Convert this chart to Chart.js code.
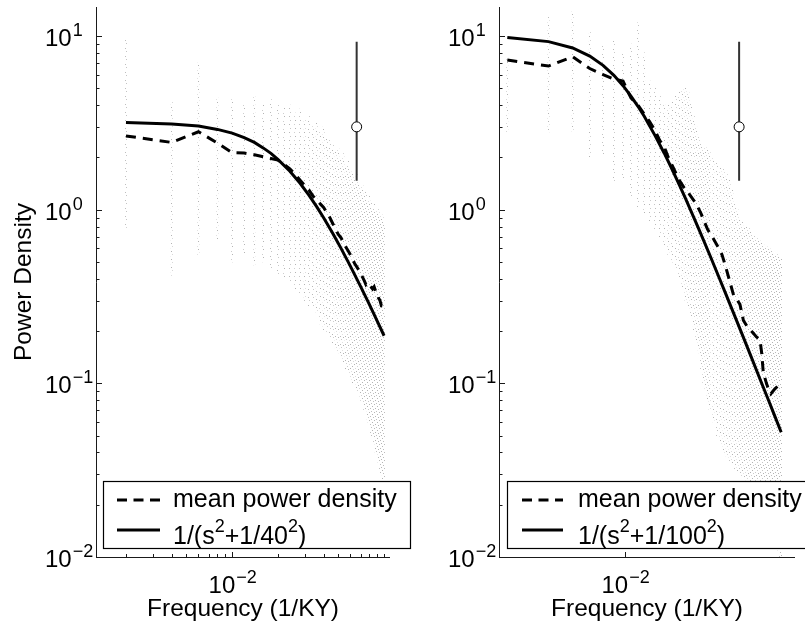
<!DOCTYPE html>
<html>
<head>
<meta charset="utf-8">
<script src="https://cdn.jsdelivr.net/npm/chart.js@4.4.0/dist/chart.umd.min.js"></script>
<style>
  html, body { margin: 0; padding: 0; background: #fff; }
  #wrap { position: relative; width: 805px; height: 628px; overflow: hidden; background: #fff; }
  canvas { position: absolute; top: 0; }
  #leftChart { left: 0; }
  #rightChart { left: 400px; }
</style>
</head>
<body>
<div id="wrap">
  <canvas id="leftChart" width="430" height="628"></canvas>
  <canvas id="rightChart" width="405" height="628"></canvas>
</div>
<script>
// ─── Left panel data (record ~500 KY) ───
const leftFreq = [0.002, 0.004, 0.006, 0.008, 0.010, 0.012, 0.014, 0.016, 0.018, 0.020,
    0.022, 0.024, 0.026, 0.028, 0.030, 0.032, 0.034, 0.036, 0.038, 0.040,
    0.042, 0.044, 0.046, 0.048, 0.050, 0.052, 0.054, 0.056, 0.058, 0.060,
    0.062, 0.064, 0.066, 0.068, 0.070, 0.072, 0.074, 0.076, 0.078, 0.080,
    0.082, 0.084, 0.086, 0.088, 0.090, 0.092, 0.094, 0.096, 0.098, 0.100];
const leftMean = [2.66, 2.44, 2.81, 2.42, 2.13, 2.12, 2.07, 2.02, 1.97, 1.93,
    1.82, 1.72, 1.60, 1.48, 1.38, 1.30, 1.20, 1.14, 1.08, 1.03,
    0.96, 0.90, 0.83, 0.77, 0.72, 0.69, 0.65, 0.61, 0.58, 0.55,
    0.52, 0.49, 0.47, 0.45, 0.43, 0.41, 0.39, 0.37, 0.38, 0.37,
    0.36, 0.35, 0.36, 0.34, 0.33, 0.31, 0.30, 0.28, 0.28, 0.29];
const leftScatterLow = [0.79, 0.42, 0.54, 0.67, 0.50, 0.55, 0.48, 0.50, 0.45, 0.42,
    0.40, 0.38, 0.35, 0.33, 0.30, 0.28, 0.27, 0.25, 0.22, 0.20,
    0.20, 0.18, 0.17, 0.16, 0.15, 0.14, 0.13, 0.12, 0.12, 0.11,
    0.10, 0.10, 0.09, 0.09, 0.08, 0.08, 0.07, 0.07, 0.06, 0.06,
    0.05, 0.05, 0.045, 0.04, 0.04, 0.035, 0.03, 0.03, 0.028, 0.025];
const leftScatterHigh = [9.7, 4.2, 7.0, 4.4, 4.3, 4.2, 4.5, 4.0, 4.3, 4.0,
    3.9, 4.0, 3.6, 3.8, 3.4, 3.5, 3.0, 3.2, 2.8, 3.0,
    2.6, 2.5, 2.4, 2.2, 2.3, 2.0, 2.1, 1.8, 1.9, 1.7,
    1.6, 1.5, 1.6, 1.4, 1.3, 1.4, 1.2, 1.3, 1.1, 1.2,
    1.1, 1.0, 1.1, 1.0, 0.95, 1.0, 0.9, 0.95, 0.9, 0.85];
const leftFitFreq = [0.002, 0.004, 0.006, 0.008, 0.010, 0.012, 0.014, 0.016, 0.018, 0.020,
    0.024, 0.028, 0.032, 0.036, 0.040, 0.046, 0.052, 0.060, 0.070, 0.080, 0.090, 0.100];
const leftFit = [3.18, 3.12, 3.03, 2.90, 2.76, 2.60, 2.44, 2.27, 2.11, 1.95,
    1.665, 1.42, 1.213, 1.041, 0.899, 0.730, 0.601, 0.473, 0.362, 0.285, 0.229, 0.188];

// ─── Right panel data (record ~725 KY) ───
const rightFreq = [0.00138, 0.00276, 0.00414, 0.00552, 0.0069, 0.00828, 0.00966, 0.01103, 0.01241, 0.01379,
    0.01517, 0.01655, 0.01793, 0.01931, 0.02069, 0.02207, 0.02345, 0.02483, 0.0262, 0.02759,
    0.02897, 0.03034, 0.03172, 0.0331, 0.03448, 0.03586, 0.03724, 0.03862, 0.04, 0.04138,
    0.04414, 0.0469, 0.04966, 0.05241, 0.05517, 0.05793, 0.06069, 0.06345, 0.06621, 0.06897,
    0.07172, 0.07448, 0.07724, 0.08, 0.08276, 0.08552, 0.08828, 0.09103, 0.09379, 0.09655,
    0.09931, 0.10207, 0.10483, 0.10759, 0.11034, 0.1131, 0.11586, 0.11862, 0.12138, 0.12414,
    0.1269, 0.12966, 0.13241, 0.13517, 0.13793];
const rightScatterLow = [2.8, 2.8, 2.8, 2.0, 2.0, 1.4, 1.5, 1.2, 1.04, 0.95,
    0.85, 0.75, 0.7, 0.62, 0.55, 0.5, 0.45, 0.4, 0.35, 0.3,
    0.27, 0.24, 0.2, 0.17, 0.15, 0.12, 0.1, 0.09, 0.08, 0.07,
    0.06, 0.05, 0.045, 0.04, 0.038, 0.036, 0.034, 0.032, 0.031, 0.03,
    0.029, 0.028, 0.027, 0.026, 0.025, 0.024, 0.023, 0.022, 0.021, 0.02,
    0.019, 0.018, 0.017, 0.016, 0.015, 0.014, 0.013, 0.013, 0.012, 0.012,
    0.011, 0.011, 0.011, 0.01, 0.01];
const rightScatterHigh = [7.5, 12.8, 14, 10.8, 9, 9.5, 8, 9, 11.9, 8,
    5.5, 5, 4.5, 4.2, 4, 4.2, 4.5, 4.8, 5, 5,
    4.8, 4.2, 3.5, 3, 2.6, 2.4, 2.3, 2.3, 2.2, 2.2,
    2.0, 1.9, 1.8, 1.7, 1.6, 1.5, 1.3, 1.1, 1.0, 0.9,
    0.85, 0.8, 0.8, 0.78, 0.75, 0.72, 0.7, 0.7, 0.68, 0.66,
    0.65, 0.64, 0.62, 0.62, 0.6, 0.6, 0.58, 0.58, 0.56, 0.56,
    0.55, 0.55, 0.54, 0.53, 0.52];
const rightMeanFreq = [0.00138, 0.00276, 0.00414, 0.00552, 0.0069, 0.00828, 0.00966, 0.01103, 0.01241, 0.01379,
    0.01517, 0.01655, 0.01793, 0.01931, 0.02069, 0.02207, 0.02483, 0.02759, 0.02897, 0.0331,
    0.03586, 0.04, 0.04414, 0.04828, 0.05103, 0.05379, 0.05793, 0.06207, 0.06621, 0.06897,
    0.0731, 0.07862, 0.08552, 0.09103, 0.09655, 0.09931, 0.10207, 0.10759, 0.1131, 0.11586,
    0.12, 0.12414, 0.12966, 0.13379, 0.13793];
const rightMean = [7.28, 6.72, 7.6, 6.5, 6.0, 5.65, 5.5, 4.4, 4.0, 3.55,
    3.2, 2.85, 2.5, 2.3, 2.0, 1.8, 1.48, 1.3, 1.25, 1.08,
    0.95, 0.77, 0.68, 0.6, 0.55, 0.48, 0.39, 0.32, 0.3, 0.285,
    0.23, 0.21, 0.196, 0.185, 0.179, 0.15, 0.116, 0.1, 0.09, 0.087,
    0.09, 0.093, 0.096, 0.101, 0.103];
const rightFitFreq = [0.00138, 0.00276, 0.00414, 0.00552, 0.0069, 0.00828, 0.00966, 0.01103, 0.01241, 0.01379,
    0.01655, 0.01931, 0.02207, 0.02483, 0.02759, 0.03448, 0.04138, 0.04828, 0.05517, 0.06897,
    0.08276, 0.09655, 0.11034, 0.12414, 0.13793];
const rightFit = [9.81, 9.29, 8.54, 7.67, 6.78, 5.94, 5.18, 4.51, 3.94, 3.45,
    2.67, 2.115, 1.704, 1.396, 1.161, 0.776, 0.552, 0.411, 0.318, 0.206,
    0.144, 0.106, 0.0815, 0.0645, 0.0523];

// ─── Error bar (same in both panels) ───
const leftErrFreq = [0.066];
const rightErrFreq = [0.068];
const errMid = [3.0];
const errLow = [1.47];
const errHigh = [9.27];

// ─── Axis ticks ───
const yMajorTicks = [10, 1, 0.1, 0.01];
const yMajorExp = ['1', '0', '\u22121', '\u22122'];
const yMinorTicks = [0.02, 0.03, 0.04, 0.05, 0.06, 0.07, 0.08, 0.09,
    0.2, 0.3, 0.4, 0.5, 0.6, 0.7, 0.8, 0.9,
    2, 3, 4, 5, 6, 7, 8, 9];
const xMajorTicks = [0.01];
const xMajorExp = ['\u22122'];
const leftXMinorTicks = [0.002, 0.003, 0.004, 0.005, 0.006, 0.007, 0.008, 0.009,
    0.02, 0.03, 0.04, 0.05, 0.06, 0.07, 0.08, 0.09, 0.1];

const FONT = '"Liberation Sans", Arial, Helvetica, sans-serif';

const pts = (xs, ys) => xs.map((x, i) => ({ x, y: ys[i] }));
const ranges = (xs, lo, hi) => xs.map((x, i) => ({ x, y: [lo[i], hi[i]] }));

// faint speckle fill for the per-frequency scatter columns
function dotPattern(canvasId) {
    const c = document.createElement('canvas');
    c.width = 5; c.height = 8;
    const g = c.getContext('2d');
    g.fillStyle = '#b4b4b4';
    [[0, 0], [1, 3], [2, 6], [3, 1], [4, 4]].forEach(([px, py]) => g.fillRect(px, py, 1, 1));
    return document.getElementById(canvasId).getContext('2d').createPattern(c, 'repeat');
}

// base "10" with raised exponent
function drawPow(ctx, base, exp, x, y, align) {
    ctx.font = '24px ' + FONT;
    const wb = ctx.measureText(base).width;
    ctx.font = '18px ' + FONT;
    const we = ctx.measureText(exp).width;
    const x0 = align === 'center' ? x - (wb + we) / 2 : x;
    ctx.textAlign = 'left';
    ctx.textBaseline = 'alphabetic';
    ctx.font = '24px ' + FONT;
    ctx.fillText(base, x0, y);
    ctx.font = '18px ' + FONT;
    ctx.fillText(exp, x0 + wb + 1, y - 10);
}

function drawRich(ctx, parts, x, y) {
    let cx = x;
    parts.forEach(([txt, sup]) => {
        ctx.font = (sup ? '18px ' : '25px ') + FONT;
        ctx.fillText(txt, cx, sup ? y - 12 : y);
        cx += ctx.measureText(txt).width;
    });
}

function decor(cfg) {
    return {
        id: 'decor',
        afterDraw(chart) {
            const { ctx, chartArea: a } = chart;
            const xs = chart.scales.x, ys = chart.scales.y;
            ctx.save();

            // legend box
            const L = cfg.legend;
            ctx.fillStyle = '#fff';
            ctx.fillRect(L.x0, L.y0, L.x1 - L.x0, L.y1 - L.y0);
            ctx.strokeStyle = '#000';
            ctx.lineWidth = 1.2;
            ctx.strokeRect(L.x0 + 0.5, L.y0 + 0.5, L.x1 - L.x0, L.y1 - L.y0);
            ctx.lineWidth = 3;
            ctx.setLineDash([10, 6.5]);
            ctx.beginPath();
            ctx.moveTo(L.sx0, 500); ctx.lineTo(L.sx1, 500);
            ctx.stroke();
            ctx.setLineDash([]);
            ctx.beginPath();
            ctx.moveTo(L.sx0, 530); ctx.lineTo(L.sx1, 530);
            ctx.stroke();
            ctx.fillStyle = '#000';
            ctx.textAlign = 'left';
            ctx.textBaseline = 'alphabetic';
            ctx.font = '25px ' + FONT;
            ctx.fillText('mean power density', L.tx, 507);
            drawRich(ctx, L.fitLabel, L.tx, 544);

            // axes and inward ticks
            ctx.strokeStyle = '#1a1a1a';
            ctx.lineWidth = 1;
            ctx.beginPath();
            ctx.moveTo(a.left + 0.5, a.top);
            ctx.lineTo(a.left + 0.5, a.bottom + 0.5);
            ctx.lineTo(a.right, a.bottom + 0.5);
            yMajorTicks.forEach(v => {
                const p = Math.round(ys.getPixelForValue(v)) + 0.5;
                ctx.moveTo(a.left, p); ctx.lineTo(a.left + 6, p);
            });
            yMinorTicks.forEach(v => {
                const p = Math.round(ys.getPixelForValue(v)) + 0.5;
                ctx.moveTo(a.left, p); ctx.lineTo(a.left + 3.5, p);
            });
            xMajorTicks.forEach(v => {
                const p = Math.round(xs.getPixelForValue(v)) + 0.5;
                ctx.moveTo(p, a.bottom); ctx.lineTo(p, a.bottom - 5);
            });
            cfg.xMinor.forEach(v => {
                const p = Math.round(xs.getPixelForValue(v)) + 0.5;
                ctx.moveTo(p, a.bottom); ctx.lineTo(p, a.bottom - 3);
            });
            ctx.stroke();

            // tick labels
            ctx.fillStyle = '#000';
            yMajorTicks.forEach((v, i) => drawPow(ctx, '10', yMajorExp[i], a.left - 51, ys.getPixelForValue(v) + 10, 'left'));
            xMajorTicks.forEach((v, i) => drawPow(ctx, '10', xMajorExp[i], xs.getPixelForValue(v), a.bottom + 36, 'center'));

            // axis titles
            ctx.font = '24.5px ' + FONT;
            ctx.textAlign = 'center';
            ctx.fillText('Frequency (1/KY)', (a.left + a.right) / 2, 616);
            if (cfg.yTitle) {
                ctx.translate(31, (a.top + a.bottom) / 2);
                ctx.rotate(-Math.PI / 2);
                ctx.fillText(cfg.yTitle, 0, 0);
            }
            ctx.restore();
        }
    };
}

function makePanel(id, d) {
    new Chart(document.getElementById(id), {
        type: 'line',
        data: {
            datasets: [
                {
                    type: 'scatter',
                    data: pts(d.errFreq, errMid),
                    pointStyle: 'circle', pointRadius: 5,
                    borderColor: '#000', borderWidth: 1, backgroundColor: '#fff',
                    order: 0
                },
                {
                    data: [{ x: d.errFreq[0], y: errHigh[0] }, { x: d.errFreq[0], y: errLow[0] }],
                    borderColor: '#333', borderWidth: 2, pointRadius: 0,
                    order: 1
                },
                {
                    label: 'mean power density',
                    data: pts(d.meanFreq, d.mean),
                    borderColor: '#000', borderWidth: 3, borderDash: [10, 7],
                    pointRadius: 0, tension: 0,
                    order: 2
                },
                {
                    label: d.fitName,
                    data: pts(d.fitFreq, d.fit),
                    borderColor: '#000', borderWidth: 3,
                    pointRadius: 0, tension: 0,
                    order: 3
                },
                {
                    type: 'bar',
                    data: ranges(d.scatterFreq, d.scatterLow, d.scatterHigh),
                    backgroundColor: dotPattern(id),
                    borderWidth: 0,
                    barThickness: 1,
                    order: 4
                }
            ]
        },
        options: {
            responsive: false,
            maintainAspectRatio: false,
            animation: false,
            events: [],
            layout: { padding: d.padding },
            scales: {
                x: { type: 'logarithmic', min: d.xMin, max: d.xMax, display: false, offset: false, grid: { offset: false } },
                y: { type: 'logarithmic', min: 0.01, max: 14.7, display: false, beginAtZero: false }
            },
            plugins: { legend: { display: false }, tooltip: { enabled: false } }
        },
        plugins: [decor(d.decor)]
    });
}

makePanel('leftChart', {
    errFreq: leftErrFreq,
    meanFreq: leftFreq, mean: leftMean,
    fitFreq: leftFitFreq, fit: leftFit, fitName: '1/(s^2+1/40^2)',
    scatterFreq: leftFreq, scatterLow: leftScatterLow, scatterHigh: leftScatterHigh,
    xMin: 0.00127, xMax: 0.1094,
    padding: { left: 96, right: 40, top: 7, bottom: 71 },
    decor: {
        xMinor: leftXMinorTicks,
        yTitle: 'Power Density',
        legend: {
            x0: 103, y0: 481, x1: 410, y1: 548, sx0: 117, sx1: 160, tx: 173,
            fitLabel: [['1/(s', false], ['2', true], ['+1/40', false], ['2', true], [')', false]]
        }
    }
});

makePanel('rightChart', {
    errFreq: rightErrFreq,
    meanFreq: rightMeanFreq, mean: rightMean,
    fitFreq: rightFitFreq, fit: rightFit, fitName: '1/(s^2+1/100^2)',
    scatterFreq: rightFreq, scatterLow: rightScatterLow, scatterHigh: rightScatterHigh,
    xMin: 0.0012, xMax: 0.174,
    padding: { left: 99, right: 10, top: 7, bottom: 71 },
    decor: {
        xMinor: [],
        yTitle: null,
        legend: {
            x0: 107, y0: 481, x1: 420, y1: 548, sx0: 122, sx1: 163, tx: 178,
            fitLabel: [['1/(s', false], ['2', true], ['+1/100', false], ['2', true], [')', false]]
        }
    }
});
</script>
</body>
</html>
